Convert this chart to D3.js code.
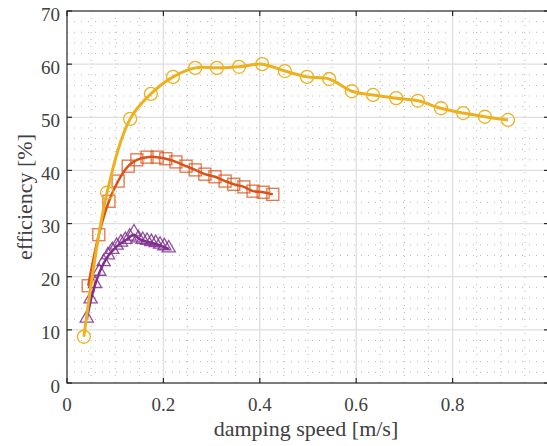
<!DOCTYPE html>
<html>
<head>
<meta charset="utf-8">
<script src="https://cdn.jsdelivr.net/npm/d3@7"></script>
<style>
  body { margin: 0; background: #fff; }
  text { font-family: "Liberation Serif", "Times New Roman", serif; fill: #404040; }
</style>
</head>
<body>
<svg width="547" height="446"></svg>
<script>
// damping speed [m/s] vs efficiency [%]
var yellowX = [0.035, 0.083, 0.131, 0.174, 0.220, 0.266, 0.311, 0.357, 0.405, 0.452,
               0.498, 0.544, 0.591, 0.635, 0.683, 0.728, 0.776, 0.822, 0.867, 0.915];
var yellowY = [8.7, 35.8, 49.7, 54.4, 57.6, 59.3, 59.3, 59.5, 60.0, 58.7,
               57.6, 57.2, 54.9, 54.2, 53.6, 53.1, 51.7, 50.8, 50.1, 49.5];

var redX = [0.044, 0.066, 0.087, 0.106, 0.127, 0.145, 0.166, 0.187, 0.205, 0.226,
            0.247, 0.266, 0.286, 0.307, 0.328, 0.346, 0.367, 0.386, 0.407, 0.427];
var redY = [18.3, 27.9, 34.2, 38.0, 40.8, 42.0, 42.5, 42.5, 42.2, 41.6,
            40.8, 40.1, 39.3, 38.8, 38.0, 37.4, 36.9, 36.1, 35.9, 35.5];

var purpleX = [0.041, 0.049, 0.058, 0.067, 0.076, 0.085, 0.094, 0.103, 0.112, 0.121,
               0.130, 0.139, 0.148, 0.157, 0.166, 0.175, 0.184, 0.193, 0.202, 0.211];
var purpleY = [12.0, 15.6, 18.5, 20.8, 22.6, 23.9, 24.9, 25.7, 26.3, 26.8,
               27.4, 28.2, 27.1, 26.8, 26.6, 26.4, 26.2, 25.9, 25.6, 25.2];

var xTicks = [0, 0.2, 0.4, 0.6, 0.8, 1];
var xTickLabels = ["0", "0.2", "0.4", "0.6", "0.8", "1"];
var yTicks = [0, 10, 20, 30, 40, 50, 60, 70];

var svg = d3.select("svg"),
    pLeft = 67, pRight = 549, pTop = 11, pBottom = 383;

var x = d3.scaleLinear().domain([0, 1]).range([pLeft, pRight]);
var y = d3.scaleLinear().domain([0, 70]).range([pBottom, pTop]);

svg.append("rect").attr("width", 547).attr("height", 446).attr("fill", "#fff");

var grid = svg.append("g");
// minor grid (dotted)
grid.selectAll(".mx").data(d3.range(1, 20).filter(function(k){ return k % 4 != 0; }).map(function(k){ return k * 0.05; }))
  .enter().append("line")
  .attr("x1", function(d){ return x(d); }).attr("x2", function(d){ return x(d); })
  .attr("y1", pTop).attr("y2", pBottom)
  .attr("stroke", "#b8b8b8").attr("stroke-width", 1).attr("stroke-dasharray", "1,6");
grid.selectAll(".my").data(d3.range(2, 70, 2).filter(function(v){ return v % 10 != 0; }))
  .enter().append("line")
  .attr("y1", function(d){ return y(d); }).attr("y2", function(d){ return y(d); })
  .attr("x1", pLeft).attr("x2", pRight)
  .attr("stroke", "#b8b8b8").attr("stroke-width", 1).attr("stroke-dasharray", "1,6");
// major grid
grid.selectAll(".gx").data(xTicks.slice(1, -1)).enter().append("line")
  .attr("x1", function(d){ return x(d); }).attr("x2", function(d){ return x(d); })
  .attr("y1", pTop).attr("y2", pBottom)
  .attr("stroke", "#dedede").attr("stroke-width", 1.3);
grid.selectAll(".gy").data(yTicks.slice(1, -1)).enter().append("line")
  .attr("y1", function(d){ return y(d); }).attr("y2", function(d){ return y(d); })
  .attr("x1", pLeft).attr("x2", pRight)
  .attr("stroke", "#dedede").attr("stroke-width", 1.3);

function series(xs, ys) {
  return xs.map(function(v, i){ return {x: v, y: ys[i]}; });
}
var yellow = series(yellowX, yellowY),
    red = series(redX, redY),
    purple = series(purpleX, purpleY);

var lineCR = d3.line().x(function(d){ return x(d.x); }).y(function(d){ return y(d.y); })
  .curve(d3.curveCatmullRom.alpha(0.5));
var lineB = d3.line().x(function(d){ return x(d.x); }).y(function(d){ return y(d.y); })
  .curve(d3.curveBasis);

var cRed = "#D95319", cYellow = "#EDB120", cPurple = "#7E2F8E";

// red
svg.append("path").attr("d", lineCR(red)).attr("fill", "none")
  .attr("stroke", cRed).attr("stroke-width", 2.5);
svg.selectAll(".sq").data(red).enter().append("rect")
  .attr("x", function(d){ return x(d.x) - 6; }).attr("y", function(d){ return y(d.y) - 6; })
  .attr("width", 12).attr("height", 12)
  .attr("fill", "none").attr("stroke", cRed).attr("stroke-opacity", 0.8).attr("stroke-width", 1.3);

// purple
svg.append("path").attr("d", lineB(purple)).attr("fill", "none")
  .attr("stroke", cPurple).attr("stroke-width", 2.5);
var tri = d3.symbol().type(d3.symbolTriangle).size(75);
svg.selectAll(".tr").data(purple).enter().append("path")
  .attr("d", tri)
  .attr("transform", function(d){ return "translate(" + x(d.x) + "," + (y(d.y) - 1) + ")"; })
  .attr("fill", "none").attr("stroke", cPurple).attr("stroke-opacity", 0.85).attr("stroke-width", 1.3);

// yellow
svg.append("path").attr("d", lineCR(yellow)).attr("fill", "none")
  .attr("stroke", cYellow).attr("stroke-width", 3);
svg.selectAll(".ci").data(yellow).enter().append("circle")
  .attr("cx", function(d){ return x(d.x); }).attr("cy", function(d){ return y(d.y); })
  .attr("r", 6.5)
  .attr("fill", "none").attr("stroke", cYellow).attr("stroke-width", 1.3);

// axes box
var axis = svg.append("g").attr("stroke", "#262626").attr("stroke-width", 1.2);
axis.append("rect").attr("x", pLeft).attr("y", pTop)
  .attr("width", pRight - pLeft).attr("height", pBottom - pTop).attr("fill", "none");
axis.selectAll(".tx").data(xTicks).enter().append("line")
  .attr("x1", function(d){ return x(d); }).attr("x2", function(d){ return x(d); })
  .attr("y1", pBottom).attr("y2", pBottom - 5);
axis.selectAll(".tx2").data(xTicks).enter().append("line")
  .attr("x1", function(d){ return x(d); }).attr("x2", function(d){ return x(d); })
  .attr("y1", pTop).attr("y2", pTop + 5);
axis.selectAll(".ty").data(yTicks).enter().append("line")
  .attr("y1", function(d){ return y(d); }).attr("y2", function(d){ return y(d); })
  .attr("x1", pLeft).attr("x2", pLeft + 5);
axis.selectAll(".ty2").data(yTicks).enter().append("line")
  .attr("y1", function(d){ return y(d); }).attr("y2", function(d){ return y(d); })
  .attr("x1", pRight).attr("x2", pRight - 5);

// tick labels
svg.selectAll(".xl").data(xTicks.slice(0, -1)).enter().append("text")
  .attr("x", function(d){ return x(d); }).attr("y", 411)
  .attr("text-anchor", "middle").attr("font-size", 19)
  .text(function(d, i){ return xTickLabels[i]; });
svg.selectAll(".yl").data(yTicks).enter().append("text")
  .attr("x", 60).attr("y", function(d){ return y(d) + 9.5; })
  .attr("text-anchor", "end").attr("font-size", 19)
  .text(function(d){ return d; });

// axis labels
svg.append("text").attr("x", (pLeft + pRight) / 2 - 2).attr("y", 436)
  .attr("text-anchor", "middle").attr("font-size", 22)
  .text("damping speed [m/s]");
svg.append("text")
  .attr("transform", "translate(32," + ((pTop + pBottom) / 2) + ") rotate(-90)")
  .attr("text-anchor", "middle").attr("font-size", 22)
  .text("efficiency [%]");
</script>
</body>
</html>
